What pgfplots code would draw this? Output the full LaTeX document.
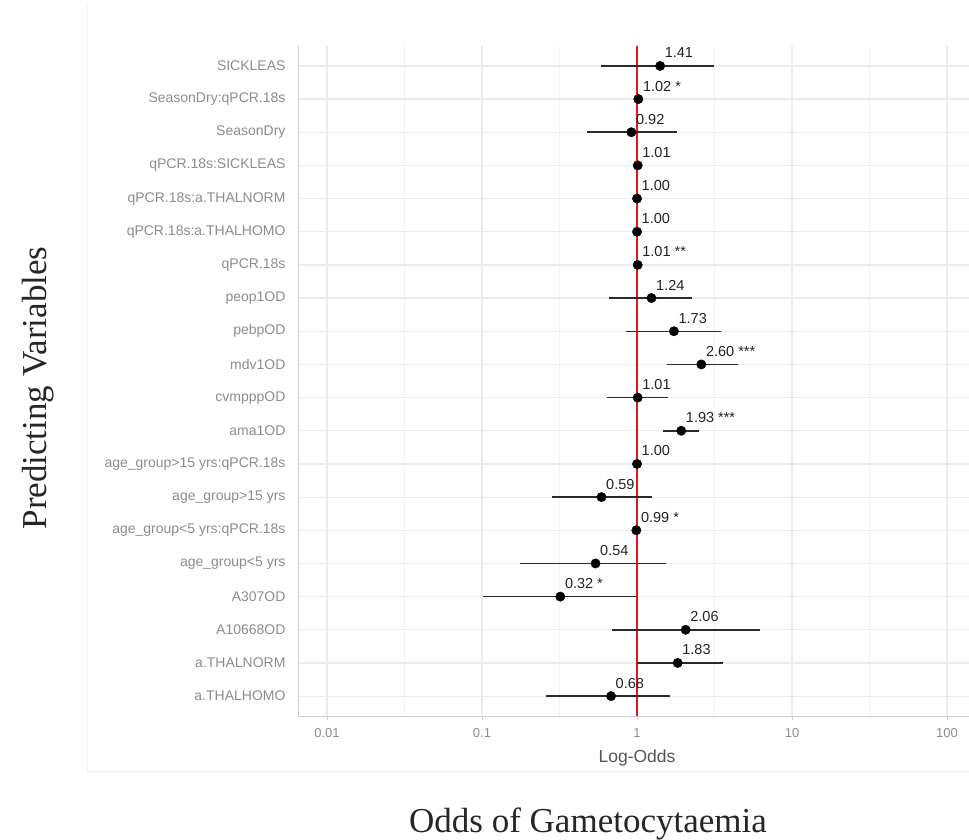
\documentclass[border=0pt]{standalone}
\usepackage{pgfplots}
\pgfplotsset{compat=1.18}
\usepackage{pgfplotstable}
\usepackage{fontspec}
\setmainfont{Liberation Sans}
\newfontfamily\seriffont{Liberation Serif}
\definecolor{gridmaj}{HTML}{EBEBEB}
\definecolor{gridmin}{HTML}{F3F3F3}
\definecolor{labgray}{HTML}{8C8C8C}
\definecolor{axgray}{HTML}{D0D0D0}
\definecolor{valcol}{HTML}{222222}
\definecolor{titlegray}{HTML}{555555}
\definecolor{ruleRed}{HTML}{E3161B}
\definecolor{cicol}{HTML}{2A2A2A}

% point estimates (odds ratios) and their labels; y = row index from bottom
\pgfplotstableread{
y or lab
19 1.41 {1.41}
18 1.02 {1.02 *}
17 0.92 {0.92}
16 1.01 {1.01}
15 1.00 {1.00}
14 1.00 {1.00}
13 1.01 {1.01 **}
12 1.24 {1.24}
11 1.73 {1.73}
10 2.60 {2.60 ***}
9 1.01 {1.01}
8 1.93 {1.93 ***}
7 1.00 {1.00}
6 0.59 {0.59}
5 0.99 {0.99 *}
4 0.54 {0.54}
3 0.32 {0.32 *}
2 2.06 {2.06}
1 1.83 {1.83}
0 0.68 {0.68}
}\pointdata

% confidence intervals (lower, upper) per row, separated by nan
\pgfplotstableread{
x y
0.59 19
3.14 19
nan nan
1.00 18
1.04 18
nan nan
0.475 17
1.81 17
nan nan
0.99 16
1.03 16
nan nan
0.99 15
1.01 15
nan nan
0.99 14
1.01 14
nan nan
1.00 13
1.02 13
nan nan
0.66 12
2.26 12
nan nan
0.85 11
3.48 11
nan nan
1.56 10
4.49 10
nan nan
0.64 9
1.58 9
nan nan
1.47 8
2.51 8
nan nan
0.99 7
1.01 7
nan nan
0.283 6
1.25 6
nan nan
0.98 5
1.00 5
nan nan
0.176 4
1.54 4
nan nan
0.102 3
0.99 3
nan nan
0.69 2
6.2 2
nan nan
1.00 1
3.59 1
nan nan
0.26 0
1.63 0
}\cidata

\begin{document}
\begin{tikzpicture}[x=1pt,y=1pt]
\useasboundingbox (0,0) rectangle (969,-839);
\draw[gray!12, line width=0.8pt] (87,-5) -- (87,-771) -- (969,-771);
\begin{axis}[
  at={(298pt,-716pt)}, anchor=south west,
  scale only axis, width=678pt, height=670pt,
  xmode=log, xmin=0.0065, xmax=153.8,
  ymin=-0.6, ymax=19.6,
  axis lines*=left,
  axis line style={axgray, line width=0.8pt},
  tick align=outside,
  xtick={0.01,0.1,1,10,100},
  xticklabels={0.01,0.1,1,10,100},
  minor xtick={0.0316,0.316,3.16,31.6},
  minor tick length=0pt,
  major tick length=4pt,
  xtick style={axgray, line width=0.6pt},
  ytick style={draw=none},
  ytick={0,...,19},
  yticklabels={a.THALHOMO, a.THALNORM, A10668OD, A307OD, age\_group<5 yrs, age\_group<5 yrs:qPCR.18s, age\_group>15 yrs, age\_group>15 yrs:qPCR.18s, ama1OD, cvmpppOD, mdv1OD, pebpOD, peop1OD, qPCR.18s, qPCR.18s:a.THALHOMO, qPCR.18s:a.THALNORM, qPCR.18s:SICKLEAS, SeasonDry, SeasonDry:qPCR.18s, SICKLEAS},
  xmajorgrids, xminorgrids, ymajorgrids,
  major grid style={gridmaj, line width=1.2pt},
  minor grid style={gridmin, line width=0.7pt},
  xticklabel style={font=\fontsize{13}{15}\selectfont, text=labgray, yshift=-5pt},
  yticklabel style={font=\fontsize{14}{16}\selectfont, text=labgray, xshift=-5pt},
  xlabel={Log-Odds},
  xlabel style={font=\fontsize{17.5}{20}\selectfont, text=titlegray, at={(axis description cs:0.5,0)}, anchor=base, yshift=-46pt},
  clip=true,
]
% value labels
\addplot[draw=none, nodes near coords, point meta=explicit symbolic,
  nodes near coords style={anchor=west, inner sep=0pt, xshift=4.5pt, yshift=13pt,
  font=\fontsize{14.5}{16}\selectfont, text=valcol}]
  table[x=or, y=y, meta=lab] {\pointdata};
% reference line at odds ratio 1
\addplot[ruleRed, line width=2.4pt] coordinates {(1,-0.6) (1,19.6)};
% confidence intervals
\addplot[cicol, line width=1.5pt, unbounded coords=jump] table[x=x, y=y] {\cidata};
% point estimates
\addplot[only marks, mark=*, mark size=4.7pt, mark options={fill=black, draw=black}] table[x=or, y=y] {\pointdata};
\end{axis}
\node[rotate=90, anchor=base, font=\seriffont\fontsize{35}{40}\selectfont, text=black!85] at (46,-388) {Predicting Variables};
\node[anchor=base, font=\seriffont\fontsize{35}{40}\selectfont, text=black!85] at (588,-832) {Odds of Gametocytaemia};
\end{tikzpicture}
\end{document}
